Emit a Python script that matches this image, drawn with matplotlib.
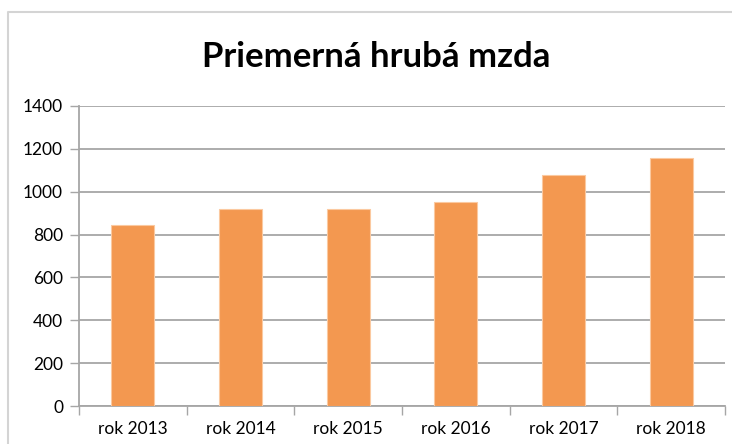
import numpy as np
import matplotlib
matplotlib.use("Agg")
import matplotlib.pyplot as plt
from matplotlib.lines import Line2D

# data
years = ["rok 2013", "rok 2014", "rok 2015", "rok 2016", "rok 2017", "rok 2018"]
wages = [844, 919, 921, 951, 1077, 1159]
yticks = [0, 200, 400, 600, 800, 1000, 1200, 1400]

_BAR = "#f39850"
_GRID = "#a6a6a6"
W, H = 732, 444

plt.rcParams["font.family"] = ["Lato", "DejaVu Sans"]

fig = plt.figure(figsize=(W / 100, H / 100), dpi=100)
ax = fig.add_axes([79 / W, 1 - 406 / H, (725 - 79) / W, 300 / H])

x = np.arange(len(years))
ax.bar(x, wages, width=0.4, color=_BAR, edgecolor="#fbc9a0", linewidth=0.8, zorder=3)

ax.set_xlim(-0.5, len(years) - 0.5)
ax.set_ylim(0, 1400)
ax.set_yticks(yticks)
ax.set_yticklabels([str(v) for v in yticks], fontsize=12.5)
ax.set_xticks(x)
ax.set_xticklabels(years, fontsize=12.5)
ax.set_xticks(np.arange(len(years) + 1) - 0.5, minor=True)
ax.tick_params(axis="x", which="major", length=0, pad=10.5)
ax.tick_params(axis="x", which="minor", length=6.5, color=_GRID, width=1)
ax.tick_params(axis="y", length=6.5, color=_GRID, width=1, pad=5)
ax.grid(axis="y", color=_GRID, linewidth=1.3, zorder=0)

for side in ["top", "right"]:
    ax.spines[side].set_visible(False)
for side in ["left", "bottom"]:
    ax.spines[side].set_color(_GRID)
    ax.spines[side].set_linewidth(1.3)

fig.text(376 / W, 1 - 67 / H, "Priemerná hrubá mzda", ha="center", va="baseline",
         fontsize=25, fontweight="bold")

# outer chart frame (cut off on the right and bottom)
fig.add_artist(Line2D([8 / W, 8 / W, 1.0], [0.0, 1 - 12 / H, 1 - 12 / H],
                      transform=fig.transFigure, color="#d4d4d4", linewidth=1.5))

fig.savefig("out.png", dpi=100)
